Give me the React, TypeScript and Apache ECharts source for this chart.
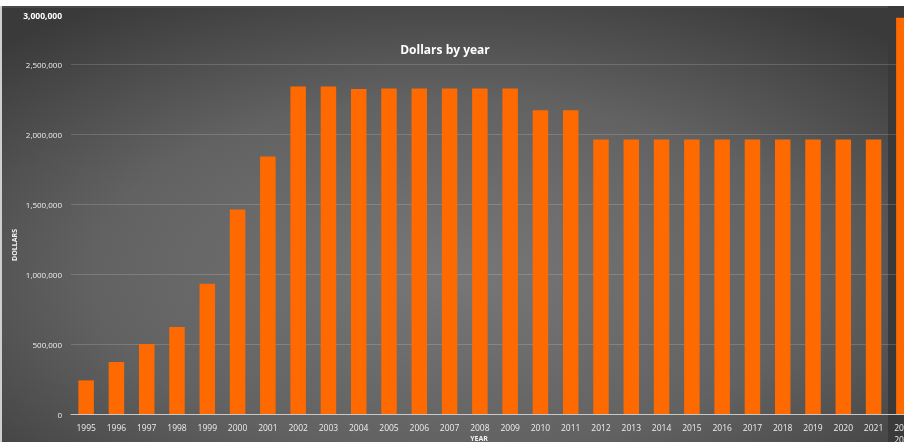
import React, { useEffect, useRef } from "react";
import * as echarts from "echarts";

const years = [
  "1995", "1996", "1997", "1998", "1999", "2000", "2001", "2002", "2003", "2004",
  "2005", "2006", "2007", "2008", "2009", "2010", "2011", "2012", "2013", "2014",
  "2015", "2016", "2017", "2018", "2019", "2020", "2021", "2022\n2023",
];
const dollars = [
  240000, 372000, 500000, 622000, 930000, 1460000, 1840000, 2340000, 2340000, 2322000,
  2325000, 2325000, 2325000, 2325000, 2325000, 2170000, 2170000, 1960000, 1960000, 1960000,
  1960000, 1960000, 1960000, 1960000, 1960000, 1960000, 1960000, 2830000,
];
const yMax = 3000000;
const yStep = 500000;
const titleText = "Dollars by year";
const yName = "DOLLARS";
const xName = "YEAR";

const fmt = (v: number) => v.toLocaleString("en-US");

export default function App() {
  const ref = useRef<HTMLDivElement>(null);
  useEffect(() => {
    const chart = echarts.init(ref.current!, null, { renderer: "svg" });
    chart.setOption({
      animation: false,
      backgroundColor: {
        type: "radial",
        x: 0.5,
        y: 0.62,
        r: 0.72,
        colorStops: [
          { offset: 0, color: "#777777" },
          { offset: 0.55, color: "#626262" },
          { offset: 1, color: "#3a3a3a" },
        ],
      },
      textStyle: { fontFamily: "Open Sans" },
      grid: {
        left: 71,
        width: 848,
        top: -6,
        bottom: 28,
        containLabel: false,
        outerBoundsMode: "none",
      },
      graphic: [
        { type: "rect", shape: { x: 0, y: 0, width: 904, height: 6 }, style: { fill: "#ffffff" }, silent: true },
        { type: "rect", shape: { x: 0, y: 6, width: 904, height: 2 }, style: { fill: "#4a4a4a" }, silent: true },
        { type: "rect", shape: { x: 0, y: 6, width: 2, height: 436 }, style: { fill: "#cfcfcf" }, silent: true },
        { type: "rect", shape: { x: 888, y: 6, width: 16, height: 436 }, style: { fill: "#3a3a3a" }, silent: true },
        {
          type: "text",
          x: 445,
          y: 49,
          style: {
            text: titleText,
            fill: "#ffffff",
            font: "bold 12px 'Open Sans'",
            textAlign: "center",
            textVerticalAlign: "middle",
          },
        },
        {
          type: "text",
          x: 62,
          y: 15,
          style: {
            text: fmt(yMax),
            fill: "#ffffff",
            font: "bold 8.5px 'Open Sans'",
            textAlign: "right",
            textVerticalAlign: "middle",
          },
        },
        {
          type: "text",
          x: 14,
          y: 245,
          rotation: Math.PI / 2,
          style: {
            text: yName,
            fill: "#f0f0f0",
            font: "bold 7px 'Open Sans'",
            textAlign: "center",
            textVerticalAlign: "middle",
          },
        },
        {
          type: "text",
          x: 479,
          y: 438,
          style: {
            text: xName,
            fill: "#f0f0f0",
            font: "bold 7px 'Open Sans'",
            textAlign: "center",
            textVerticalAlign: "middle",
          },
        },
      ],
      xAxis: {
        type: "category",
        data: years,
        axisLine: { show: true, lineStyle: { color: "#c8c8c8", width: 1 } },
        axisTick: { show: false },
        axisLabel: {
          color: "#eeeeee",
          fontSize: 8.5,
          margin: 7,
          interval: 0,
          lineHeight: 12,
        },
      },
      yAxis: {
        type: "value",
        min: 0,
        max: yMax,
        interval: yStep,
        axisLine: { show: false },
        axisTick: { show: false },
        splitLine: { lineStyle: { color: "rgba(255,255,255,0.16)", width: 1 } },
        axisLabel: {
          color: "#eeeeee",
          fontSize: 8,
          margin: 9,
          formatter: (v: number) => (v >= yMax ? "" : fmt(v)),
        },
      },
      series: [
        {
          type: "bar",
          data: dollars,
          barWidth: 15.5,
          itemStyle: { color: "#ff6a00" },
        },
      ],
    });
    return () => chart.dispose();
  }, []);
  return (
    <div
      ref={ref}
      style={{ position: "fixed", left: 0, top: 0, width: 904, height: 442 }}
    />
  );
}
